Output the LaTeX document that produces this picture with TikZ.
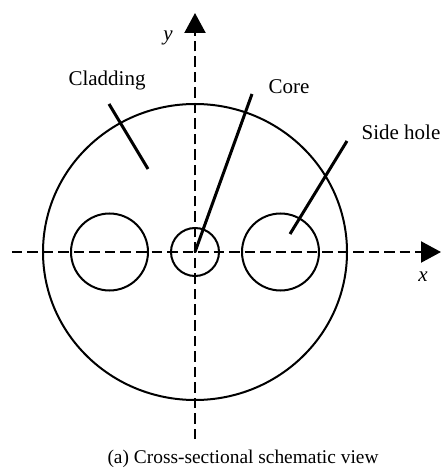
\documentclass[tikz,border=0pt]{standalone}
\usepackage{fontspec}
\setmainfont{Liberation Serif}
\usetikzlibrary{positioning,arrows.meta,shapes.geometric}

\begin{document}
\begin{tikzpicture}[
		x=1pt,
		y=1pt,
		>={Triangle[width=21pt,length=20pt]},
		hole/.style={
			draw,
			circle,
			line width=2pt,
			inner sep=0pt,
			outer sep=0pt,
			minimum size=#1
		},
		label/.style={
			inner sep=0pt,
			font=\fontsize{21}{24}\selectfont
		},
		axis/.style={
			line width=2.2pt,
			dash pattern=on 10.5pt off 5pt
		},
		leader/.style={
			line width=3pt
		}
		]
		
		\useasboundingbox (-195,-218) rectangle (246,252);
		
		%--------------------------------------------------
		% Nodes
		%--------------------------------------------------
		
		\node (core) [hole=48pt] at (0,0) {};
		
		\node (lefthole) [hole=77pt,left=23pt of core] {};
		
		\node (righthole) [hole=77pt,right=23pt of core] {};
		
		\node (cladding) [draw,ellipse,line width=2pt,inner sep=0pt,outer sep=0pt,
		minimum width=304pt,minimum height=296pt] at (0,0) {};
		
		\node (claddinglabel) [label] at (-88,172) {Cladding};
		
		\node (corelabel) [label] at (94,165) {Core};
		
		\node (sidelabel) [label] at (206,120) {Side hole};
		
		\node (ylabel) [label] at (-27,214) {\textit{y}};
		
		\node (xlabel) [label] at (228,-25) {\textit{x}};
		
		\node (caption) [label,font=\fontsize{19.4}{24}\selectfont] at (48,-207) {(a) Cross-sectional schematic view};
		
		\coordinate (ybottom) at (0,-187);
		\coordinate (ytop) at (0,239);
		\coordinate (xleft) at (-183,0);
		\coordinate (xright) at (246,0);
		
		\coordinate (claddingend) at (-86,148);
		\coordinate (claddingin) at (-47,83);
		\coordinate (coreend) at (57,158);
		\coordinate (sideend) at (152,111);
		\coordinate (sidein) at (95,18);
		
		%--------------------------------------------------
		% Connections
		%--------------------------------------------------
		
		\draw[->,axis] (ybottom) -- (ytop);
		
		\draw[->,axis] (xleft) -- (xright);
		
		\draw[leader] (claddingend) -- (claddingin);
		
		\draw[leader] (coreend) -- (core.center);
		
		\draw[leader] (sideend) -- (sidein);
		
	\end{tikzpicture}
\end{document}
